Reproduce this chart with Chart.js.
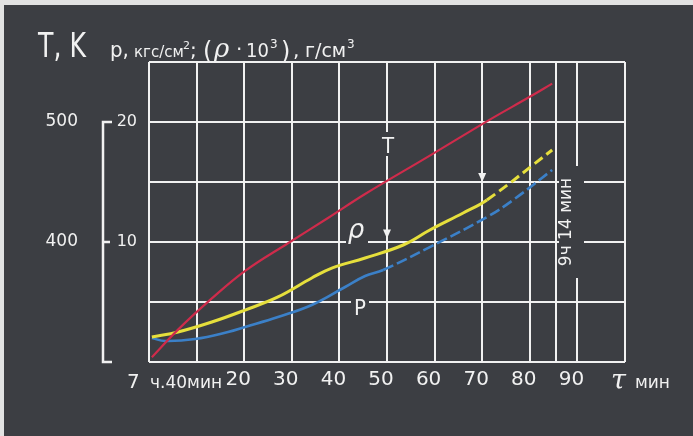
<!DOCTYPE html>
<html><head><meta charset="utf-8">
<script src="https://cdn.jsdelivr.net/npm/chart.js"></script>
<style>html,body{margin:0;padding:0;background:#3c3e43;}canvas{display:block}</style>
</head><body>
<canvas id="c" width="693" height="436"></canvas>
<script>
// ---- data (x = minutes after 7 h 40 min) ----
const xTicks = [0, 10, 20, 30, 40, 50, 60, 70, 80, 85.5, 90, 100];
const xTickLabels = ['', '', '20', '30', '40', '50', '60', '70', '80', '', '90', ''];
const pTicks = [0, 5, 10, 15, 20, 25];
const pTickLabels = ['', '', '10', '', '20', ''];
const tTicks = [400, 500];
const tTickLabels = ['400', '500'];

const tempMin = [0.6, 6.1, 13.2, 20.2, 29.2, 37.6, 45.4, 59.0, 71.6, 80.0, 84.7];
const tempK   = [304, 327, 353, 376, 399, 420, 440, 472, 502, 521, 532];

const rhoMin = [0.6, 6.1, 13.2, 20.2, 27.1, 34.2, 38.4, 45.4, 53.4, 59.0, 66.0, 71.0, 84.7];
const rhoVal = [2.08, 2.5, 3.33, 4.33, 5.42, 7.0, 7.83, 8.67, 9.75, 11.0, 12.42, 13.5, 17.67];

const presMin = [0.6, 3.4, 9.7, 16.6, 20.2, 27.1, 34.2, 41.2, 45.4, 49.2, 59.0, 71.0, 76.5, 84.7];
const presVal = [2.0, 1.75, 1.92, 2.5, 2.92, 3.75, 4.75, 6.25, 7.17, 7.67, 9.58, 12.08, 13.5, 16.0];

const rhoDashFrom = 71;
const presDashFrom = 47;

const pts = (xs, ys) => xs.map((x, i) => ({x: x, y: ys[i]}));
const WHITE = '#f1f1f1';
const BG = '#3c3e43';

const bgPlugin = {
  id: 'bg',
  beforeDraw(chart) {
    const c = chart.ctx;
    c.save();
    c.fillStyle = '#e2e2e2';
    c.fillRect(0, 0, chart.width, chart.height);
    c.fillStyle = BG;
    c.fillRect(4, 5, chart.width - 4, chart.height - 5);
    c.restore();
  }
};

function txt(c, s, x, y, font, align) {
  c.font = font;
  c.textAlign = align || 'left';
  c.fillText(s, x, y);
}

const decoPlugin = {
  id: 'deco',
  beforeDatasetsDraw(chart) {
    const c = chart.ctx, xs = chart.scales.x, ys = chart.scales.y;
    c.save();
    // gaps behind labels
    c.fillStyle = BG;
    c.fillRect(381, 132, 16, 24);
    c.fillRect(346, 218, 22, 30);
    c.fillRect(351, 294, 18, 24);
    c.fillRect(559, 166, 25, 112);
    c.fillStyle = WHITE;
    c.textBaseline = 'alphabetic';
    txt(c, 'T', 388, 153, '22px "DejaVu Sans Condensed"', 'center');
    txt(c, 'P', 360, 315, '22px "DejaVu Sans Condensed"', 'center');
    txt(c, 'ρ', 356, 238, 'italic 26px "DejaVu Sans"', 'center');
    // arrows
    const arrow = (xv, yv) => {
      const px = xs.getPixelForValue(xv), py = ys.getPixelForValue(yv);
      c.beginPath();
      c.moveTo(px - 4, py - 9);
      c.lineTo(px + 4, py - 9);
      c.lineTo(px, py);
      c.closePath();
      c.fill();
    };
    arrow(70, 15);
    arrow(50, 10.3);
    // vertical 9 ч 14 мин
    c.save();
    c.translate(567, 222);
    c.rotate(-Math.PI / 2);
    c.textBaseline = 'middle';
    txt(c, '9ч 14 мин', 0, 0, '17px "DejaVu Sans"', 'center');
    c.restore();
    c.restore();
  },
  afterDraw(chart) {
    const c = chart.ctx, ys = chart.scales.y;
    c.save();
    c.strokeStyle = WHITE;
    c.fillStyle = WHITE;
    c.lineWidth = 2.5;
    // bracket of the pressure axis
    const bx = 103, yTop = ys.getPixelForValue(20), yBot = ys.getPixelForValue(0), y10 = ys.getPixelForValue(10);
    c.beginPath();
    c.moveTo(bx + 9, yTop);
    c.lineTo(bx, yTop);
    c.lineTo(bx, yBot);
    c.lineTo(bx + 9, yBot);
    c.moveTo(bx, y10);
    c.lineTo(bx + 7, y10);
    c.stroke();
    // titles
    c.textBaseline = 'alphabetic';
    c.save();
    c.translate(38, 57);
    c.scale(1, 1.18);
    txt(c, 'T, K', 0, 0, '28px "DejaVu Sans Condensed"');
    c.restore();
    txt(c, 'p,', 110, 57, '22px "DejaVu Sans Condensed"');
    txt(c, 'кгс/см', 134, 57, '15px "DejaVu Sans"');
    txt(c, '2', 183, 49, '11px "DejaVu Sans"');
    txt(c, ';', 190, 57, '20px "DejaVu Sans"');
    txt(c, '(', 203, 59, '24px "DejaVu Sans"');
    txt(c, 'ρ', 214, 57, 'italic 26px "DejaVu Serif"');
    txt(c, '·', 236, 56, '20px "DejaVu Sans"');
    txt(c, '10', 246, 57, '20px "DejaVu Sans Condensed"');
    txt(c, '3', 270, 48, '12px "DejaVu Sans"');
    txt(c, ')', 281, 59, '24px "DejaVu Sans"');
    txt(c, ',', 293, 57, '20px "DejaVu Sans"');
    txt(c, 'г/см', 305, 57, '19px "DejaVu Sans"');
    txt(c, '3', 347, 48, '12px "DejaVu Sans"');
    // x axis extra labels
    txt(c, '7', 127, 388, '20px "DejaVu Sans"');
    txt(c, 'ч.40мин', 150, 388, '17px "DejaVu Sans"');
    txt(c, 'τ', 611, 389, 'italic 27px "DejaVu Serif"');
    txt(c, 'мин', 635, 388, '17px "DejaVu Sans"');
    c.restore();
  }
};

new Chart(document.getElementById('c'), {
  type: 'line',
  data: {
    datasets: [
      {
        label: 'T', data: pts(tempMin, tempK), yAxisID: 'yT',
        borderColor: '#cf2b4b', borderWidth: 2.2, pointRadius: 0,
        tension: 0.4
      },
      {
        label: 'ρ', data: pts(rhoMin, rhoVal), yAxisID: 'y',
        borderColor: '#e6df3c', borderWidth: 3, pointRadius: 0,
        tension: 0.4,
        segment: { borderDash: ctx => ctx.p0.parsed.x >= rhoDashFrom ? [10, 5] : [] }
      },
      {
        label: 'P', data: pts(presMin, presVal), yAxisID: 'y',
        borderColor: '#3b80c8', borderWidth: 2.6, pointRadius: 0,
        tension: 0.4,
        segment: { borderDash: ctx => ctx.p0.parsed.x >= presDashFrom ? [11, 4] : [] }
      }
    ]
  },
  options: {
    responsive: false,
    animation: false,
    events: [],
    layout: { padding: { left: 0, top: 62, right: 68, bottom: 0 } },
    plugins: { legend: { display: false }, tooltip: { enabled: false } },
    scales: {
      x: {
        type: 'linear', min: 0, max: 100,
        afterBuildTicks: s => { s.ticks = xTicks.map(v => ({ value: v })); },
        afterFit: s => { s.height = 74; },
        ticks: {
          callback: (v, i) => xTickLabels[i],
          color: WHITE, font: { family: 'DejaVu Sans', size: 20 },
          padding: 6, labelOffset: -6, maxRotation: 0, autoSkip: false
        },
        grid: { color: WHITE, lineWidth: 2, drawTicks: false },
        border: { display: false }
      },
      y: {
        position: 'left', weight: 0, min: 0, max: 25,
        afterBuildTicks: s => { s.ticks = pTicks.map(v => ({ value: v })); },
        afterFit: s => { s.width = 59; },
        ticks: {
          callback: (v, i) => pTickLabels[i],
          color: WHITE, font: { family: 'DejaVu Sans', size: 16 }, padding: 12
        },
        grid: { color: WHITE, lineWidth: 2, drawTicks: false },
        border: { display: false }
      },
      yT: {
        position: 'left', weight: 1, min: 300, max: 550,
        afterBuildTicks: s => { s.ticks = tTicks.map(v => ({ value: v })); },
        afterFit: s => { s.width = 90; },
        ticks: {
          callback: (v, i) => tTickLabels[i],
          color: WHITE, font: { family: 'DejaVu Sans', size: 17 }, padding: 12
        },
        grid: { display: false, drawTicks: false },
        border: { display: false }
      }
    }
  },
  plugins: [bgPlugin, decoPlugin]
});
</script>
</body></html>
